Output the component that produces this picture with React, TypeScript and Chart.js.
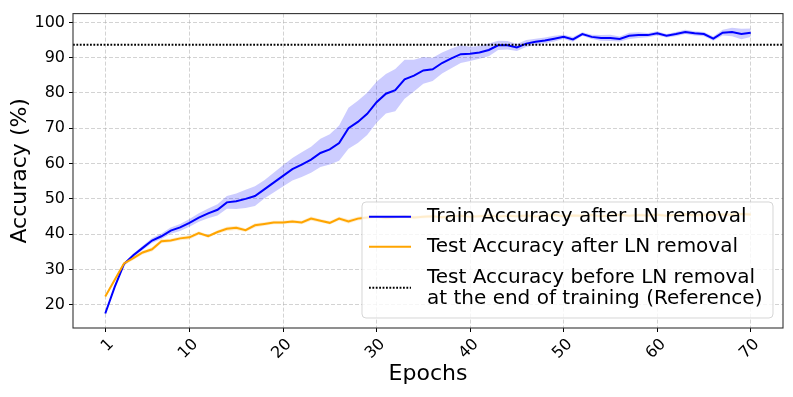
import React, { useEffect, useRef } from "react";
import { Chart, registerables } from "chart.js";

Chart.register(...registerables);

// ---------- data ----------
const epochs = [
  1, 2, 3, 4, 5, 6, 7, 8, 9, 10, 11, 12, 13, 14, 15, 16, 17, 18, 19, 20,
  21, 22, 23, 24, 25, 26, 27, 28, 29, 30, 31, 32, 33, 34, 35, 36, 37, 38, 39, 40,
  41, 42, 43, 44, 45, 46, 47, 48, 49, 50, 51, 52, 53, 54, 55, 56, 57, 58, 59, 60,
  61, 62, 63, 64, 65, 66, 67, 68, 69, 70,
];

const trainAcc = [
  17.5, 25.0, 31.5, 34.0, 36.1, 38.2, 39.4, 41.0, 41.9, 43.2,
  44.7, 45.9, 46.9, 49.0, 49.3, 50.0, 50.8, 52.7, 54.6, 56.5,
  58.4, 59.7, 61.1, 63.0, 64.0, 65.8, 70.0, 71.8, 74.1, 77.4,
  79.8, 80.8, 83.9, 84.9, 86.4, 86.7, 88.5, 89.8, 91.0, 91.1,
  91.5, 92.2, 93.5, 93.5, 92.9, 94.0, 94.5, 94.9, 95.4, 95.9,
  95.2, 96.7, 95.9, 95.6, 95.6, 95.3, 96.2, 96.4, 96.4, 96.9,
  96.2, 96.7, 97.3, 96.9, 96.7, 95.4, 97.1, 97.3, 96.7, 97.1,
];

const trainStd = [
  0.3, 0.4, 0.4, 0.5, 0.6, 0.7, 0.8, 0.9, 1.0, 1.1,
  1.2, 1.4, 1.6, 1.8, 2.2, 2.6, 2.8, 2.6, 2.8, 3.0,
  3.2, 3.5, 3.7, 4.0, 4.3, 5.0, 5.8, 6.0, 6.0, 5.8,
  5.6, 6.0, 5.5, 4.5, 3.8, 3.3, 3.0, 2.8, 2.5, 2.0,
  1.8, 1.8, 1.3, 1.2, 1.0, 1.0, 0.9, 0.8, 0.8, 0.6,
  0.7, 0.5, 0.6, 0.8, 0.9, 0.7, 0.9, 0.8, 0.6, 0.6,
  0.5, 0.6, 0.6, 0.6, 0.6, 0.6, 0.8, 1.2, 1.5, 1.2,
];

const testAcc = [
  22.3, 27.0, 31.7, 33.2, 34.8, 35.7, 38.0, 38.2, 38.8, 39.1,
  40.3, 39.4, 40.6, 41.5, 41.8, 41.1, 42.5, 42.9, 43.3, 43.3,
  43.6, 43.3, 44.4, 43.8, 43.2, 44.4, 43.6, 44.4, 44.7, 44.9,
  44.6, 44.8, 45.0, 44.7, 44.9, 45.1, 44.8, 45.0, 45.2, 44.9,
  45.1, 45.3, 45.0, 45.2, 45.1, 45.3, 45.0, 45.2, 45.4, 45.1,
  45.3, 45.2, 45.4, 45.1, 45.3, 45.5, 45.2, 45.4, 45.3, 45.5,
  45.2, 45.4, 45.6, 45.3, 45.5, 45.4, 45.6, 45.5, 45.7, 45.6,
];

const testStd = [
  0.3, 0.4, 0.5, 0.5, 0.5, 0.6, 0.6, 0.5, 0.5, 0.6,
  0.5, 0.4, 0.5, 0.6, 0.6, 0.5, 0.6, 0.5, 0.5, 0.5,
  0.5, 0.5, 0.6, 0.5, 0.5, 0.5, 0.6, 0.5, 0.5, 0.5,
  0.5, 0.5, 0.5, 0.5, 0.5, 0.5, 0.5, 0.5, 0.5, 0.5,
  0.5, 0.5, 0.5, 0.5, 0.5, 0.5, 0.5, 0.5, 0.5, 0.5,
  0.5, 0.5, 0.5, 0.5, 0.5, 0.5, 0.5, 0.5, 0.5, 0.5,
  0.5, 0.5, 0.5, 0.5, 0.5, 0.5, 0.5, 0.5, 0.5, 0.5,
];

const referenceAcc = 93.7;

const xTicks = [1, 10, 20, 30, 40, 50, 60, 70];
const yTicks = [20, 30, 40, 50, 60, 70, 80, 90, 100];
const xRange = [-2.45, 73.45];
const yRange = [13.4, 102.5];

const legendLabels = [
  ["Train Accuracy after LN removal"],
  ["Test Accuracy after LN removal"],
  ["Test Accuracy before LN removal", "at the end of training (Reference)"],
];

// ---------- styles ----------
const FONT = "'DejaVu Sans', 'Liberation Sans', sans-serif";
const BLUE = "#0000ff";
const ORANGE = "#ffa500";
const BLUE_BAND = "rgba(0,0,255,0.2)";
const ORANGE_BAND = "rgba(255,165,0,0.2)";
const GRID = "rgba(176,176,176,0.7)";
const REF_DASH = [1.8, 1.6];

const pts = (vals: number[]) => epochs.map((e, i) => ({ x: e, y: vals[i] }));

const framePlugin = {
  id: "frame",
  afterDatasetsDraw(chart: any) {
    const { ctx, chartArea: a } = chart;
    ctx.save();
    ctx.strokeStyle = "#333";
    ctx.lineWidth = 1.1;
    ctx.strokeRect(a.left, a.top, a.right - a.left, a.bottom - a.top);
    ctx.restore();
  },
};

const legendPlugin = {
  id: "customLegend",
  afterDraw(chart: any) {
    const { ctx } = chart;
    const bx = 362, by = 202, bw = 411, bh = 116, r = 4;
    ctx.save();
    ctx.beginPath();
    ctx.moveTo(bx + r, by);
    ctx.lineTo(bx + bw - r, by);
    ctx.quadraticCurveTo(bx + bw, by, bx + bw, by + r);
    ctx.lineTo(bx + bw, by + bh - r);
    ctx.quadraticCurveTo(bx + bw, by + bh, bx + bw - r, by + bh);
    ctx.lineTo(bx + r, by + bh);
    ctx.quadraticCurveTo(bx, by + bh, bx, by + bh - r);
    ctx.lineTo(bx, by + r);
    ctx.quadraticCurveTo(bx, by, bx + r, by);
    ctx.closePath();
    ctx.fillStyle = "rgba(255,255,255,0.8)";
    ctx.fill();
    ctx.strokeStyle = "rgba(204,204,204,0.8)";
    ctx.lineWidth = 1;
    ctx.stroke();

    const rows = [
      { y: 216.7, color: BLUE, dash: [] as number[], lines: legendLabels[0] },
      { y: 246.7, color: ORANGE, dash: [] as number[], lines: legendLabels[1] },
      { y: 287.8, color: "#000", dash: REF_DASH, lines: legendLabels[2] },
    ];
    ctx.font = `20px ${FONT}`;
    ctx.textBaseline = "middle";
    ctx.textAlign = "left";
    for (const row of rows) {
      ctx.beginPath();
      ctx.setLineDash(row.dash);
      ctx.strokeStyle = row.color;
      ctx.lineWidth = 2;
      ctx.moveTo(369, row.y);
      ctx.lineTo(411, row.y);
      ctx.stroke();
      ctx.setLineDash([]);
      ctx.fillStyle = "#000";
      const n = row.lines.length;
      row.lines.forEach((t, i) => {
        const ty = row.y + (i - (n - 1) / 2) * 21;
        ctx.fillText(t, 427, ty);
      });
    }
    ctx.restore();
  },
};

export default function App() {
  const ref = useRef<HTMLCanvasElement>(null);
  useEffect(() => {
    const trainLower = trainAcc.map((v, i) => v - trainStd[i]);
    const trainUpper = trainAcc.map((v, i) => v + trainStd[i]);
    const testLower = testAcc.map((v, i) => v - testStd[i]);
    const testUpper = testAcc.map((v, i) => v + testStd[i]);
    const chart = new Chart(ref.current as HTMLCanvasElement, {
      type: "line",
      data: {
        datasets: [
          { data: pts(trainLower), borderColor: "transparent", borderWidth: 0, pointRadius: 0, fill: false, order: 10 },
          { data: pts(trainUpper), borderColor: "transparent", borderWidth: 0, pointRadius: 0, fill: "-1", backgroundColor: BLUE_BAND, order: 9 },
          { data: pts(testLower), borderColor: "transparent", borderWidth: 0, pointRadius: 0, fill: false, order: 8 },
          { data: pts(testUpper), borderColor: "transparent", borderWidth: 0, pointRadius: 0, fill: "-1", backgroundColor: ORANGE_BAND, order: 7 },
          { data: pts(trainAcc), borderColor: BLUE, borderWidth: 2, pointRadius: 0, fill: false, order: 2 },
          { data: pts(testAcc), borderColor: ORANGE, borderWidth: 2, pointRadius: 0, fill: false, order: 1 },
          {
            data: [
              { x: xRange[0], y: referenceAcc },
              { x: xRange[1], y: referenceAcc },
            ],
            borderColor: "#000",
            borderWidth: 2,
            borderDash: REF_DASH,
            pointRadius: 0,
            fill: false,
            order: 0,
          },
        ] as any,
      },
      options: {
        animation: false,
        responsive: false,
        devicePixelRatio: 1,
        layout: { padding: { left: 0, right: 10, top: 10, bottom: 0 } },
        plugins: { legend: { display: false }, tooltip: { enabled: false } },
        elements: { line: { tension: 0 }, point: { radius: 0 } },
        scales: {
          x: {
            type: "linear",
            min: xRange[0],
            max: xRange[1],
            afterBuildTicks: (s: any) => {
              s.ticks = xTicks.map((v) => ({ value: v }));
            },
            afterFit: (s: any) => {
              s.height = 69;
            },
            ticks: {
              autoSkip: false,
              minRotation: 45,
              maxRotation: 45,
              padding: 3,
              labelOffset: 6,
              color: "#000",
              font: { family: FONT, size: 16 },
              callback: (v: any) => String(v),
            },
            grid: { color: GRID, lineWidth: 0.8, drawTicks: true, tickLength: 4, tickColor: "#000", tickWidth: 1, tickBorderDash: [] },
            border: { display: false, dash: [4, 2] },
            title: { display: true, text: "Epochs", color: "#000", font: { family: FONT, size: 22 }, padding: { top: 0, bottom: 10 } },
          },
          y: {
            type: "linear",
            min: yRange[0],
            max: yRange[1],
            afterBuildTicks: (s: any) => {
              s.ticks = yTicks.map((v) => ({ value: v }));
            },
            afterFit: (s: any) => {
              s.width = 73;
            },
            ticks: {
              padding: 4,
              color: "#000",
              font: { family: FONT, size: 16 },
              callback: (v: any) => String(v),
            },
            grid: { color: GRID, lineWidth: 0.8, drawTicks: true, tickLength: 4, tickColor: "#000", tickWidth: 1, tickBorderDash: [] },
            border: { display: false, dash: [4, 2] },
            title: { display: true, text: "Accuracy (%)", color: "#000", font: { family: FONT, size: 22 }, padding: { top: 7, bottom: 0 } },
          },
        },
      } as any,
      plugins: [framePlugin, legendPlugin],
    });
    return () => chart.destroy();
  }, []);

  return (
    <div style={{ position: "fixed", left: 0, top: 0, width: 793, height: 397, background: "#fff" }}>
      <canvas ref={ref} width={793} height={397} style={{ display: "block", width: 793, height: 397 }} />
    </div>
  );
}
